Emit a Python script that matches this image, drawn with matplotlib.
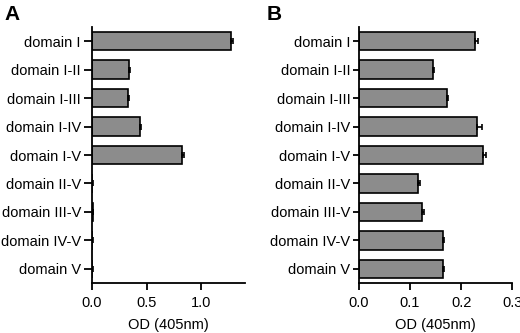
import matplotlib
matplotlib.use("Agg")
import matplotlib.pyplot as plt

plt.rcParams['font.family'] = ['Liberation Sans', 'DejaVu Sans']

domains = ["domain I", "domain I-II", "domain I-III", "domain I-IV", "domain I-V",
           "domain II-V", "domain III-V", "domain IV-V", "domain V"]

# panel A
od_a = [1.27, 0.34, 0.33, 0.44, 0.825, 0.004, 0.006, 0.004, 0.004]
err_a = [0.02, 0.012, 0.01, 0.012, 0.015, 0.002, 0.002, 0.002, 0.002]
# panel B
od_b = [0.227, 0.145, 0.173, 0.231, 0.242, 0.115, 0.123, 0.164, 0.165]
err_b = [0.006, 0.002, 0.002, 0.009, 0.007, 0.004, 0.005, 0.002, 0.002]

fig = plt.figure(figsize=(5.2, 3.33), dpi=100)
ax_a = fig.add_axes([0.177, 0.150, 0.294, 0.769])
ax_b = fig.add_axes([0.690, 0.150, 0.295, 0.769])

def draw(ax, vals, errs, xmax, ticks, ticklabels, ylen):
    pos = list(range(len(domains)))
    # only the upper half of the error bar shows, like in the original figure
    ax.barh(pos, vals, height=0.65, color="#8c8c8c", edgecolor="black", linewidth=1.2,
            xerr=[[0] * len(errs), errs],
            error_kw=dict(ecolor="black", elinewidth=1.2, capsize=2.5, capthick=1.2))
    ax.set_ylim(len(domains) - 0.5, -0.5)
    ax.set_xlim(0, xmax)
    ax.set_yticks(pos)
    ax.set_yticklabels(domains, fontsize=10.5)
    ax.set_xticks(ticks)
    ax.set_xticklabels(ticklabels, fontsize=10.5)
    ax.set_xlabel("OD (405nm)", fontsize=10.5, labelpad=6)
    for s in ["top", "right"]:
        ax.spines[s].set_visible(False)
    for s in ["left", "bottom"]:
        ax.spines[s].set_linewidth(1.3)
    ax.tick_params(axis="y", length=ylen, width=1.3, pad=2)
    ax.tick_params(axis="x", length=5, width=1.3, pad=4)

draw(ax_a, od_a, err_a, 1.4, [0.0, 0.5, 1.0], ["0.0", "0.5", "1.0"], 6)
draw(ax_b, od_b, err_b, 0.3, [0.0, 0.1, 0.2, 0.3], ["0.0", "0.1", "0.2", "0.3"], 4)

fig.text(0.008, 0.955, "A", fontsize=15, fontweight="bold", va="center")
fig.text(0.512, 0.955, "B", fontsize=15, fontweight="bold", va="center")

fig.savefig("out.png", dpi=100)
